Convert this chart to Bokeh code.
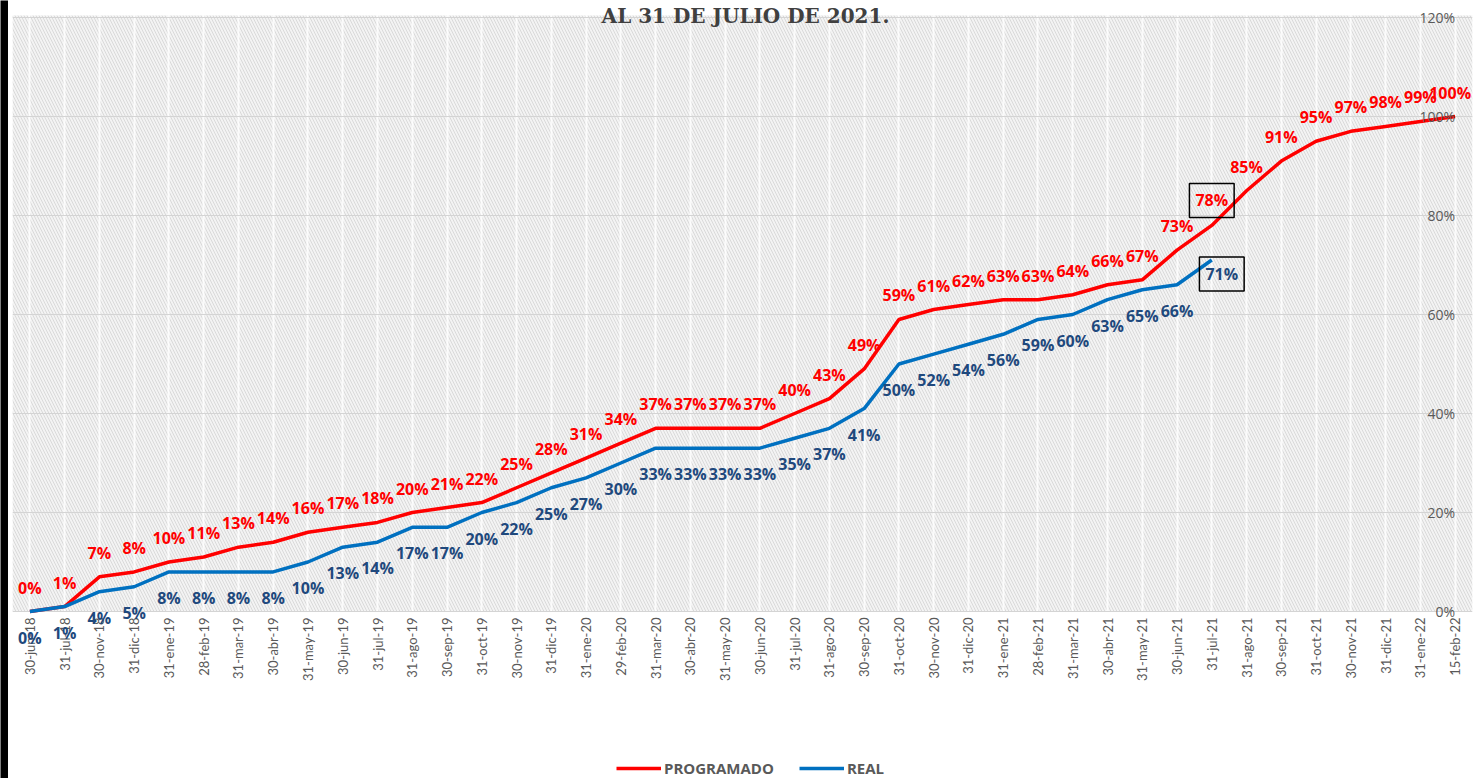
from math import pi
from bokeh.plotting import figure
from bokeh.layouts import row, column
from bokeh.models import (Range1d, FixedTicker, BoxAnnotation, Legend, LegendItem, Grid)
from bokeh.embed import file_html
from bokeh.resources import INLINE
from bokeh.core.properties import value

# ---------------- data ----------------
fechas = ["30-jun-18", "31-jul-18", "30-nov-18", "31-dic-18", "31-ene-19", "28-feb-19",
          "31-mar-19", "30-abr-19", "31-may-19", "30-jun-19", "31-jul-19", "31-ago-19",
          "30-sep-19", "31-oct-19", "30-nov-19", "31-dic-19", "31-ene-20", "29-feb-20",
          "31-mar-20", "30-abr-20", "31-may-20", "30-jun-20", "31-jul-20", "31-ago-20",
          "30-sep-20", "31-oct-20", "30-nov-20", "31-dic-20", "31-ene-21", "28-feb-21",
          "31-mar-21", "30-abr-21", "31-may-21", "30-jun-21", "31-jul-21", "31-ago-21",
          "30-sep-21", "31-oct-21", "30-nov-21", "31-dic-21", "31-ene-22", "15-feb-22"]

programado = [0, 1, 7, 8, 10, 11, 13, 14, 16, 17, 18, 20, 21, 22, 25, 28, 31, 34,
              37, 37, 37, 37, 40, 43, 49, 59, 61, 62, 63, 63, 64, 66, 67, 73, 78, 85,
              91, 95, 97, 98, 99, 100]

real = [0, 1, 4, 5, 8, 8, 8, 8, 10, 13, 14, 17, 17, 20, 22, 25, 27, 30, 33, 33, 33,
        33, 35, 37, 41, 50, 52, 54, 56, 59, 60, 63, 65, 66, 71]

y_ticks = [0, 20, 40, 60, 80, 100, 120]
y_tick_labels = ["0%", "20%", "40%", "60%", "80%", "100%", "120%"]

titulo = "AL 31 DE JULIO DE 2021."
fecha_corte = "31-jul-21"
serie_names = ["PROGRAMADO", "REAL"]

# ---------------- styles / layout ----------------
RED = "#FF0000"
BLUE = "#0070C0"
BLUE_TXT = "#1F497D"
GRAY = "#595959"
LABEL_FONT = value("Open Sans")
LABEL_SIZE = "16px"

MAIN_H = 738          # main figure height (legend strip below)
TOP_PX = 17           # pixel row of the 120% line
ZERO_PX = 611         # pixel row of the 0% line
y_max = max(y_ticks)
scale = (ZERO_PX - TOP_PX) / y_max          # px per percent
y_hi = y_max + TOP_PX / scale
y_lo = -(MAIN_H - ZERO_PX) / scale

n = len(fechas)
idx = list(range(n))
idx_real = list(range(len(real)))
k = fechas.index(fecha_corte)

# black strip at the left edge (chart border)
strip = figure(width=8, height=778, output_backend="svg", toolbar_location=None,
               x_axis_location=None, y_axis_location=None,
               min_border_left=0, min_border_right=0, min_border_top=0, min_border_bottom=0)
strip.background_fill_color = "black"
strip.border_fill_color = "black"
strip.outline_line_color = None
for g in strip.grid:
    g.visible = False

p = figure(width=1465, height=MAIN_H, output_backend="svg", toolbar_location=None,
           x_range=Range1d(-0.5, n - 0.5), y_range=Range1d(y_lo, y_hi),
           x_axis_location=None, y_axis_location=None,
           min_border_left=4, min_border_right=1, min_border_top=0,
           min_border_bottom=0)
p.outline_line_color = None
p.background_fill_color = "white"
p.border_fill_color = "white"
for g in p.grid:
    g.visible = False

# hatched plot background (plot area 0%..120%)
bg = BoxAnnotation(bottom=0, top=y_max + 0.4, fill_color="#f3f3f3", fill_alpha=1.0,
                   hatch_pattern="\\", hatch_color="#d9d9d9", hatch_scale=6,
                   hatch_weight=1, line_color=None, level="image")
p.add_layout(bg)

# grids
xg = Grid(dimension=0, ticker=FixedTicker(ticks=idx), grid_line_color="white",
          grid_line_width=2, grid_line_alpha=0.8)
yg = Grid(dimension=1, ticker=FixedTicker(ticks=y_ticks), grid_line_color="#d4d4d4",
          grid_line_width=1)
p.add_layout(xg)
p.add_layout(yg)

# lines
r_prog = p.line(idx, programado, line_color=RED, line_width=3.5)
r_real = p.line(idx_real, real, line_color=BLUE, line_width=3.5)

# x tick labels (vertical, under the 0% line)
p.text(x=idx, y=[0] * n, text=fechas, angle=pi / 2, text_align="right",
       text_baseline="middle", y_offset=6,
       text_font=value("Lato"), text_font_size="13px", text_color=GRAY)

# programado labels (boxed one drawn separately)
prog_norm = [i for i in idx if i != k]
prog_xoff = [-5 if i == n - 1 else 0 for i in prog_norm]
p.text(x=prog_norm, y=[programado[i] for i in prog_norm],
       text=[f"{programado[i]}%" for i in prog_norm],
       text_align="center", text_baseline="middle", x_offset=prog_xoff, y_offset=-24,
       text_font=LABEL_FONT, text_font_style="bold", text_font_size=LABEL_SIZE,
       text_color=RED)
p.text(x=[k], y=[programado[k]], text=[f"{programado[k]}%"],
       text_align="center", text_baseline="middle", y_offset=-25,
       text_font=LABEL_FONT, text_font_style="bold", text_font_size=LABEL_SIZE,
       text_color=RED, border_line_color="black", border_line_width=1.5,
       padding=6)

# real labels
real_norm = [i for i in idx_real if i != k]
p.text(x=real_norm, y=[real[i] for i in real_norm],
       text=[f"{real[i]}%" for i in real_norm],
       text_align="center", text_baseline="middle", y_offset=26,
       text_font=LABEL_FONT, text_font_style="bold", text_font_size=LABEL_SIZE,
       text_color=BLUE_TXT)
p.text(x=[k], y=[real[k]], text=[f"{real[k]}%"],
       text_align="center", text_baseline="middle", x_offset=10, y_offset=14,
       text_font=LABEL_FONT, text_font_style="bold", text_font_size=LABEL_SIZE,
       text_color=BLUE_TXT, border_line_color="black", border_line_width=1.5,
       padding=6)

# y tick labels drawn inside the plot, right aligned (as in the reference)
p.text(x=[n - 1] * len(y_ticks), y=y_ticks, text=y_tick_labels,
       text_align="right", text_baseline="middle",
       text_font=LABEL_FONT, text_font_size="14px", text_color=GRAY)

# title (last line of the chart title, at the very top)
p.text(x=[(n - 1) / 2], y=[y_max], text=[titulo], text_align="center",
       text_baseline="alphabetic", x_offset=3, y_offset=-2,
       text_font=value("DejaVu Serif"), text_font_style="bold",
       text_font_size="20px", text_color="#404040")

# legend strip below
leg = figure(width=1465, height=778 - MAIN_H, output_backend="svg", toolbar_location=None,
             x_range=Range1d(0, 1), y_range=Range1d(0, 1),
             x_axis_location=None, y_axis_location=None,
             min_border_left=0, min_border_right=0, min_border_top=0, min_border_bottom=0)
leg.outline_line_color = None
leg.background_fill_color = "white"
for g in leg.grid:
    g.visible = False
lp = leg.line([0, 1], [-1, -1], line_color=RED, line_width=3.5)
lr = leg.line([0, 1], [-1, -1], line_color=BLUE, line_width=3.5)
legend = Legend(items=[LegendItem(label=serie_names[0], renderers=[lp]),
                       LegendItem(label=serie_names[1], renderers=[lr])],
                orientation="horizontal", location=(604, 0),
                glyph_width=45, glyph_height=14, label_height=14,
                label_standoff=3, spacing=25, padding=0, margin=0,
                border_line_color=None, background_fill_alpha=0,
                label_text_font="Open Sans", label_text_font_style="bold",
                label_text_font_size="15px", label_text_color=GRAY)
leg.add_layout(legend, "center")

layout = row(strip, column(p, leg, spacing=0), spacing=0)
open("out.html", "w").write(file_html(layout, INLINE))
